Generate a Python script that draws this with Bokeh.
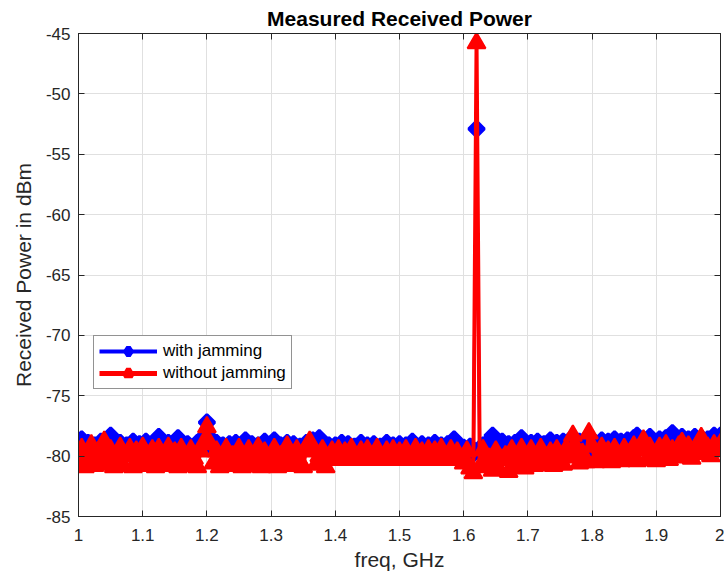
import numpy as np
from bokeh.plotting import figure
from bokeh.models import (Range1d, FixedTicker, CustomJSTickFormatter, Label, Legend,
                          LinearAxis, ColumnDataSource)
from bokeh.embed import file_html
from bokeh.resources import INLINE

try:
    from bokeh.models import HTMLLabel as NoteLabel
except ImportError:
    NoteLabel = Label

# Frequency sweep grid in GHz (1.000 .. 2.000, 5 MHz steps, 201 points)
freq_ghz = np.linspace(1.0, 2.0, 201)

# Received power with jamming (dBm)
with_jamming = [
    -79.2, -78.6, -79.4, -78.9, -79.7, -79.1, -79.5, -78.8, -79.6, -79.0,
    -78.3, -79.2, -79.7, -78.9, -79.5, -79.1, -79.8, -78.8, -79.4, -79.0,
    -79.6, -78.8, -79.3, -79.7, -78.8, -78.4, -79.2, -79.6, -78.9, -79.4,
    -79.7, -78.5, -79.1, -79.6, -79.0, -79.5, -79.8, -78.9, -79.3, -78.4,
    -77.2, -78.5, -79.4, -78.9, -79.6, -79.1, -79.7, -79.0, -79.5, -78.9,
    -79.6, -79.2, -78.7, -79.5, -79.0, -79.7, -79.1, -79.4, -78.8, -79.6,
    -79.0, -78.7, -79.5, -79.1, -79.7, -78.9, -79.4, -79.0, -79.6, -79.2,
    -79.5, -78.9, -79.3, -78.7, -79.6, -78.5, -79.2, -79.7, -79.1, -79.5,
    -79.1, -79.6, -78.9, -79.4, -79.0, -79.7, -79.2, -79.5, -78.9, -79.6,
    -79.1, -79.5, -79.0, -79.7, -79.2, -79.4, -78.9, -79.6, -79.1, -79.5,
    -79.0, -79.4, -79.1, -79.6, -78.8, -79.3, -79.7, -79.0, -79.4, -79.1,
    -79.6, -78.9, -79.5, -79.1, -79.7, -79.0, -79.3, -78.6, -79.2, -79.7,
    -79.3, -79.7, -79.2, -79.8, -52.9, -79.5, -79.1, -79.6, -78.8, -78.3,
    -79.1, -79.6, -78.8, -79.4, -79.0, -79.6, -78.9, -79.3, -78.5, -79.2,
    -79.6, -78.9, -79.4, -78.8, -79.3, -79.0, -79.5, -78.7, -79.2, -78.9,
    -79.4, -78.8, -79.3, -78.7, -79.1, -79.5, -78.8, -79.2, -78.6, -79.1,
    -79.5, -78.9, -79.3, -78.7, -79.2, -78.8, -79.4, -78.6, -79.1, -78.8,
    -79.3, -78.7, -79.1, -78.5, -78.3, -78.8, -79.2, -78.7, -78.4, -78.9,
    -79.1, -78.6, -79.0, -78.5, -78.9, -78.1, -78.7, -79.0, -78.4, -78.8,
    -78.6, -78.9, -78.4, -78.8, -78.5, -79.0, -78.6, -78.8, -78.3, -78.7,
    -78.3,
]

# Received power without jamming (dBm)
without_jamming = [
    -80.6, -79.4, -80.9, -80.1, -79.1, -80.8, -79.7, -80.7, -78.8, -80.5,
    -79.5, -80.9, -80.2, -79.3, -80.8, -80.0, -79.4, -80.9, -79.6, -80.4,
    -79.3, -80.8, -80.1, -79.5, -80.9, -79.4, -80.3, -80.8, -79.3, -80.6,
    -79.7, -80.9, -79.4, -80.4, -80.8, -79.5, -80.2, -80.9, -79.6, -78.9,
    -77.6, -79.0, -80.6, -79.6, -80.9, -80.2, -79.4, -80.8, -80.0, -80.7,
    -79.4, -80.9, -80.3, -79.5, -80.8, -80.1, -79.3, -80.9, -79.7, -80.6,
    -80.2, -79.4, -80.9, -80.0, -80.7, -79.2, -80.3, -80.8, -79.5, -80.5,
    -80.9, -79.3, -78.8, -79.6, -80.7, -80.0, -79.5, -80.9, -80.2, -79.6,
    -80.3, -79.5, -80.2, -79.7, -80.3, -79.4, -80.1, -80.3, -79.6, -80.2,
    -79.5, -80.3, -80.0, -79.4, -80.2, -80.3, -79.6, -80.1, -79.5, -80.3,
    -79.7, -80.2, -79.5, -80.3, -80.0, -79.4, -80.3, -79.7, -80.2, -79.5,
    -80.3, -79.6, -80.1, -79.4, -80.3, -80.0, -79.5, -80.2, -79.7, -80.3,
    -80.6, -79.6, -81.0, -81.4, -45.8, -80.9, -79.5, -80.8, -80.2, -81.2,
    -79.6, -81.1, -80.3, -80.0, -81.3, -79.5, -80.9, -80.4, -79.4, -81.0,
    -80.2, -79.5, -80.8, -80.0, -79.4, -80.7, -80.1, -79.7, -80.8, -79.5,
    -80.3, -80.7, -79.4, -80.1, -78.3, -79.3, -80.6, -79.8, -80.5, -78.1,
    -79.2, -80.5, -80.0, -79.3, -80.4, -79.6, -80.5, -79.4, -80.2, -80.4,
    -79.4, -80.3, -79.7, -79.2, -80.4, -79.5, -78.7, -80.3, -79.3, -80.1,
    -80.4, -79.3, -80.0, -79.1, -80.3, -79.5, -80.1, -79.2, -78.9, -80.0,
    -79.2, -80.2, -79.5, -79.0, -78.5, -79.8, -79.3, -80.0, -79.1, -79.6,
    -79.0,
]

x_ticks = [1.0, 1.1, 1.2, 1.3, 1.4, 1.5, 1.6, 1.7, 1.8, 1.9, 2.0]
y_ticks = [-85, -80, -75, -70, -65, -60, -55, -50, -45]

FONT = "Liberation Sans"
AX = "#262626"
BLUE = "#0000ff"
RED = "#ff0000"

p = figure(width=724, height=578, output_backend="svg", toolbar_location=None,
           x_range=Range1d(1.0, 2.0), y_range=Range1d(-85, -45),
           min_border_left=78, min_border_right=4, min_border_top=32, min_border_bottom=62)
p.background_fill_color = "white"
p.border_fill_color = "white"
p.outline_line_color = AX
p.outline_line_width = 1

p.title.text = "Measured Received Power"
p.title.align = "center"
p.title.text_font = FONT
p.title.text_font_style = "bold"
p.title.text_font_size = "21px"
p.title.text_color = "black"
p.title.standoff = 8

p.xaxis.ticker = FixedTicker(ticks=x_ticks)
p.yaxis.ticker = FixedTicker(ticks=y_ticks)
p.xaxis.formatter = CustomJSTickFormatter(code="return tick.toFixed(1).replace(/\\.0$/, '');")
p.yaxis.formatter = CustomJSTickFormatter(code="return Math.round(tick).toString();")
p.xaxis.axis_label = "freq, GHz"
p.yaxis.axis_label = "Received Power in dBm"
for ax in (p.xaxis[0], p.yaxis[0]):
    ax.axis_line_color = AX
    ax.major_tick_line_color = AX
    ax.major_tick_in = 6
    ax.major_tick_out = 0
    ax.minor_tick_line_color = None
    ax.major_label_text_font = FONT
    ax.major_label_text_font_size = "17px"
    ax.major_label_text_color = AX
    ax.axis_label_text_font = FONT
    ax.axis_label_text_font_size = "21px"
    ax.axis_label_text_font_style = "normal"
    ax.axis_label_text_color = AX
p.xaxis.major_label_standoff = 12
p.yaxis.major_label_standoff = 8
p.xaxis.axis_label_standoff = 4
p.yaxis.axis_label_standoff = 8

# tick marks on the top and right edges (box style), without labels
top_ax = LinearAxis(ticker=FixedTicker(ticks=x_ticks),
                    formatter=CustomJSTickFormatter(code="return '';"),
                    major_tick_in=6, major_tick_out=0, major_label_standoff=0,
                    minor_tick_line_color=None, axis_line_color=AX,
                    major_tick_line_color=AX)
right_ax = LinearAxis(ticker=FixedTicker(ticks=y_ticks),
                      formatter=CustomJSTickFormatter(code="return '';"),
                      major_tick_in=6, major_tick_out=0, major_label_standoff=0,
                      minor_tick_line_color=None, axis_line_color=AX,
                      major_tick_line_color=AX)
p.add_layout(top_ax, "above")
p.add_layout(right_ax, "right")

p.xgrid.grid_line_color = "#e0e0e0"
p.ygrid.grid_line_color = "#e0e0e0"

p.line(freq_ghz, with_jamming, line_color=BLUE, line_width=3, line_join="round")
p.scatter(freq_ghz, with_jamming, marker="square", angle=np.pi / 4, size=11,
          fill_color=BLUE, line_color=BLUE, line_width=3)
p.line(freq_ghz, without_jamming, line_color=RED, line_width=4, line_join="round")
p.scatter(freq_ghz, without_jamming, marker="triangle", size=18,
          fill_color=RED, line_color=RED, line_width=2)

# legend-only proxies (a single undefined point, so nothing shows in the plot area)
proxy = ColumnDataSource(data=dict(x=[1.5], y=[float("nan")]))
lg_bl = p.line("x", "y", source=proxy, line_color=BLUE, line_width=4)
lg_bm = p.scatter("x", "y", source=proxy, marker="diamond", size=14,
                  fill_color=BLUE, line_color=BLUE, line_width=5)
lg_rl = p.line("x", "y", source=proxy, line_color=RED, line_width=5)
lg_rm = p.scatter("x", "y", source=proxy, marker="triangle", size=14,
                  fill_color=RED, line_color=RED, line_width=5)

legend = Legend(items=[("with jamming", [lg_bl, lg_bm]),
                       ("without jamming", [lg_rl, lg_rm])],
                location=(15, 127))
legend.label_text_font = FONT
legend.label_text_font_size = "17px"
legend.label_text_color = "black"
legend.glyph_width = 58
legend.glyph_height = 20
legend.label_height = 20
legend.label_standoff = 6
legend.padding = 5
legend.spacing = 2
legend.margin = 0
legend.border_line_color = AX
legend.border_line_width = 1
legend.background_fill_color = "white"
legend.background_fill_alpha = 1
p.add_layout(legend, "center")

# "x10^9" exponent note under the right end of the x axis (HTML overlay, not clipped to the frame)
exp_base = NoteLabel(x=615, y=-53, x_units="screen", y_units="screen", text="\u00d710",
                     text_font=FONT, text_font_size="18px", text_color=AX,
                     text_align="center", text_baseline="middle")
exp_pow = NoteLabel(x=637, y=-46, x_units="screen", y_units="screen", text="9",
                    text_font=FONT, text_font_size="13px", text_color=AX,
                    text_align="center", text_baseline="middle")
p.add_layout(exp_base)
p.add_layout(exp_pow)

open("out.html", "w").write(file_html(p, INLINE))
